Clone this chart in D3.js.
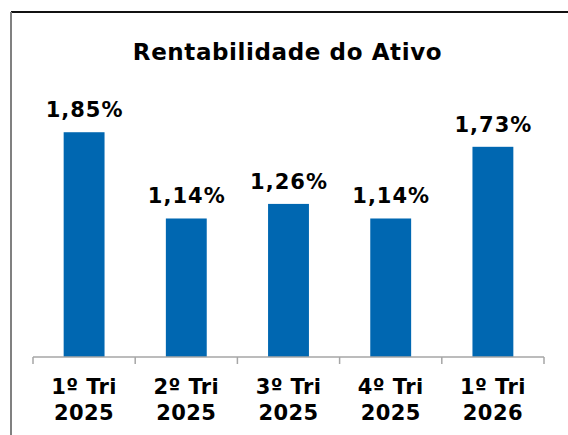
<!DOCTYPE html>
<meta charset="utf-8">
<style>
  body { margin: 0; background: #fff; }
  text { font-family: "DejaVu Sans", Verdana, sans-serif; font-weight: bold; fill: #000; }
</style>
<script src="https://d3js.org/d3.v7.min.js"></script>
<div id="chart"></div>
<script>
  // data
  var quarters = ["1º Tri", "2º Tri", "3º Tri", "4º Tri", "1º Tri"];
  var years = ["2025", "2025", "2025", "2025", "2026"];
  var values = [1.85, 1.14, 1.26, 1.14, 1.73];

  var width = 568, height = 435;
  var margin = {top: 114, left: 33, right: 24, bottom: 78};

  var svg = d3.select("#chart").append("svg")
    .attr("width", width)
    .attr("height", height);

  // frame: black top, gray left
  svg.append("line").attr("x1", 11).attr("y1", 12).attr("x2", width).attr("y2", 12)
    .attr("stroke", "#111").attr("stroke-width", 2);
  svg.append("line").attr("x1", 11).attr("y1", 12).attr("x2", 11).attr("y2", height)
    .attr("stroke", "#808080").attr("stroke-width", 2);

  svg.append("text")
    .attr("x", 287.5).attr("y", 60)
    .attr("text-anchor", "middle")
    .style("font-size", "23px")
    .style("letter-spacing", "0.6px")
    .text("Rentabilidade do Ativo");

  var x = d3.scaleBand()
    .domain(d3.range(values.length))
    .range([margin.left, width - margin.right])
    .paddingInner(0.6).paddingOuter(0.3);

  var y = d3.scaleLinear()
    .domain([0, 2])
    .range([height - margin.bottom, margin.top]);

  var base = y(0);

  svg.selectAll("rect.bar")
    .data(values)
    .enter().append("rect")
      .attr("class", "bar")
      .attr("x", function(d, i) { return x(i); })
      .attr("width", x.bandwidth())
      .attr("y", function(d) { return y(d); })
      .attr("height", function(d) { return base - y(d); })
      .attr("fill", "#0067b1");

  svg.selectAll("text.val")
    .data(values)
    .enter().append("text")
      .attr("class", "val")
      .attr("x", function(d, i) { return x(i) + x.bandwidth() / 2 + 0.5; })
      .attr("y", function(d) { return y(d) - 15; })
      .attr("text-anchor", "middle")
      .style("font-size", "21px")
      .style("letter-spacing", "1px")
      .text(function(d) { return d.toFixed(2).replace(".", ",") + "%"; });

  // x axis with ticks between categories
  var edges = d3.range(values.length + 1).map(function(i) { return margin.left + i * (width - margin.left - margin.right) / values.length; });
  var axis = svg.append("g").attr("stroke", "#a6a6a6").attr("stroke-width", 1.5);
  axis.append("line").attr("x1", edges[0]).attr("x2", edges[edges.length - 1])
    .attr("y1", base).attr("y2", base);
  axis.selectAll("line.tick").data(edges).enter().append("line")
    .attr("class", "tick")
    .attr("x1", function(d) { return d; }).attr("x2", function(d) { return d; })
    .attr("y1", base).attr("y2", base + 7);

  var lab = svg.selectAll("text.cat")
    .data(quarters)
    .enter().append("text")
      .attr("class", "cat")
      .attr("text-anchor", "middle")
      .style("font-size", "21px")
      .style("letter-spacing", "0.4px")
      .attr("x", function(d, i) { return x(i) + x.bandwidth() / 2; })
      .attr("y", 394);
  lab.append("tspan").text(function(d) { return d; });
  lab.append("tspan")
    .attr("x", function(d, i) { return x(i) + x.bandwidth() / 2; })
    .attr("dy", 26)
    .text(function(d, i) { return years[i]; });
</script>
